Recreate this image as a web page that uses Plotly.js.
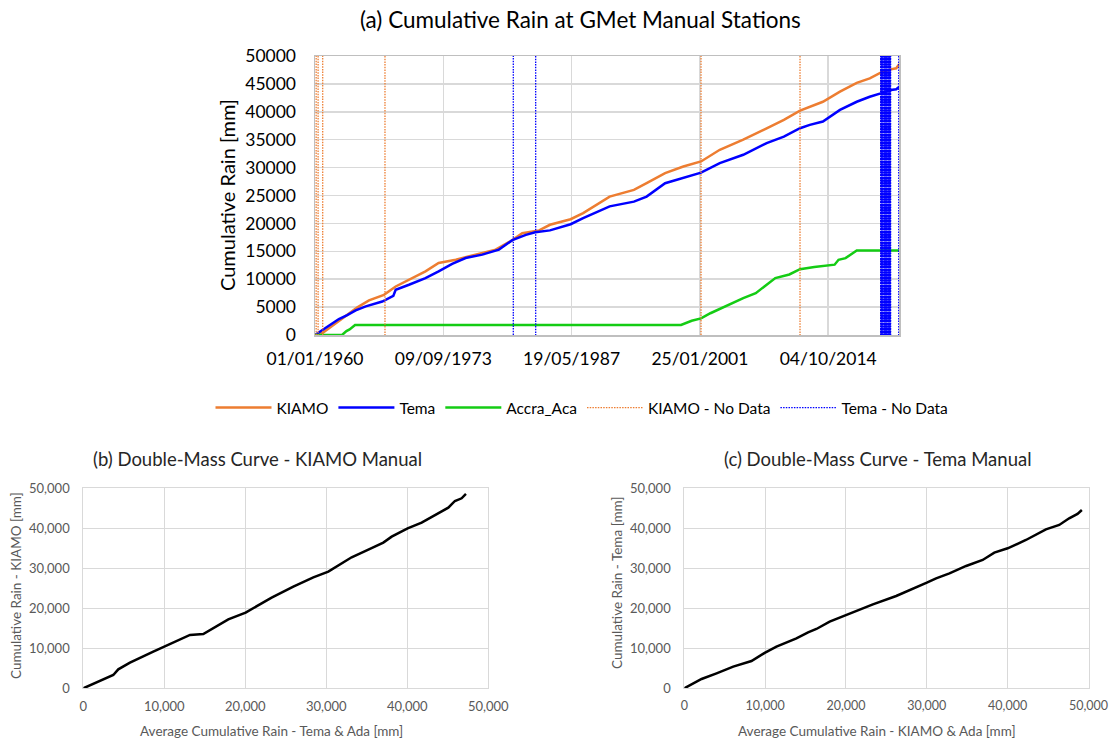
<!DOCTYPE html>
<html><head><meta charset="utf-8">
<script src="https://cdn.plot.ly/plotly-3.0.1.min.js"></script>
<style>html,body{margin:0;padding:0;background:#fff;} #chart{width:1110px;height:740px;}</style>
</head><body><div id="chart"></div>
<script>
// ---------- (a) Cumulative rain time series ----------
const kiamoDates = ['1960-01-01','1960-10-15','1961-11-10','1963-04-10','1964-07-10','1965-10-05','1967-05-10','1968-08-10','1970-01-10','1971-10-15','1973-03-10','1975-01-10','1977-02-10','1979-04-10','1981-01-20','1982-02-10','1983-12-01','1985-01-25','1987-04-10','1988-08-10','1991-06-10','1994-01-10','1995-05-20','1997-05-10','1999-04-20','2001-03-10','2003-03-10','2005-09-10','2008-03-10','2010-01-10','2011-10-01','2012-10-15','2014-03-10','2016-01-05','2017-10-20','2019-03-10','2020-05-10','2021-06-05','2022-01-05','2022-05-05'];
const kiamoRain  = [0,360,1670,3340,4950,6200,7200,8700,9900,11400,12900,13500,14400,15300,17000,18250,18750,19750,20750,21850,24800,26000,27200,29000,30200,31100,33200,35000,37050,38550,40200,40900,41800,43600,45200,46000,47000,47600,47800,48550];

const temaDates = ['1960-01-01','1960-06-05','1961-04-20','1962-07-20','1963-06-10','1964-05-05','1965-06-01','1967-03-05','1968-05-10','1968-08-10','1970-01-10','1971-10-15','1973-03-10','1974-08-20','1976-01-25','1977-11-05','1979-08-15','1981-01-20','1982-07-01','1983-07-01','1985-01-25','1987-04-10','1988-08-10','1991-06-10','1994-01-10','1995-05-20','1997-05-10','1999-04-20','2001-03-10','2003-03-10','2005-09-10','2008-03-10','2010-01-10','2011-10-01','2012-10-15','2014-03-10','2016-01-05','2017-10-20','2019-03-10','2020-05-10','2021-06-05','2022-01-05','2022-05-05'];
const temaRain  = [0,480,1430,2860,3580,4400,5130,6000,7000,8100,9000,10200,11400,12750,13800,14400,15300,17000,17950,18400,18750,19850,20950,23050,23900,24800,27200,28200,29100,30800,32300,34400,35550,37050,37650,38250,40350,41800,42700,43300,43900,44050,44500];

const accraDates = ['1960-01-01','1962-11-20','1963-05-10','1963-09-10','1964-04-10','1999-01-20','2000-03-10','2001-03-10','2002-03-10','2003-09-10','2005-09-10','2007-01-10','2009-02-10','2010-08-10','2011-10-01','2013-04-10','2015-06-10','2015-11-10','2016-08-10','2017-10-20','2022-05-05'];
const accraRain  = [0,0,700,1000,1790,1790,2550,2980,3900,5100,6600,7500,10200,10850,11800,12170,12600,13480,13780,15150,15150];

const kiamoNoData = ['1960-02-15','1960-05-01','1960-10-27','1967-06-20','2001-03-09','2011-10-01','2020-05-11'];
const temaNoData  = ['1981-02-27','1983-07-19','2020-05-11','2020-05-18','2020-05-25','2020-06-01','2020-06-08','2020-06-15','2020-06-22','2020-06-29','2020-07-06','2020-07-13','2020-07-20','2020-07-27','2020-08-03','2020-09-07','2020-09-14','2020-09-21','2020-09-28','2020-10-05','2020-10-12','2020-10-19','2020-10-26','2020-11-02','2020-11-09','2020-11-16','2020-11-23','2020-11-30','2020-12-07','2020-12-14','2020-12-21','2020-12-28','2021-01-04','2021-01-11','2021-01-18','2021-01-25','2021-02-22','2021-03-01','2021-03-08','2021-03-15','2021-03-22','2021-03-29','2021-04-05','2021-04-12','2021-04-19','2021-04-26','2021-05-03','2021-05-10','2021-05-17','2021-05-24','2021-05-31','2022-04-12'];

const xTickVals = ['1960-01-01','1973-09-09','1987-05-19','2001-01-25','2014-10-04'];
const xTickText = ['01/01/1960','09/09/1973','19/05/1987','25/01/2001','04/10/2014'];
const xRangeA = ['1960-01-01','2022-05-05'];
const yRangeA = [0, 50000];

// ---------- (b) Double-mass KIAMO ----------
const dmKiamoAvg = [0,3700,4320,5760,8640,10000,11930,13170,14810,16050,17900,20040,21810,23250,25930,28400,30250,33130,35390,37040,38070,40040,41770,43420,45060,45880,46710,47240];
const dmKiamoCum = [0,3330,4750,6420,9170,10420,12250,13330,13580,15000,17250,18920,21080,22670,25420,27750,29170,32750,34830,36420,37920,40000,41420,43330,45170,46830,47500,48580];

// ---------- (c) Double-mass Tema ----------
const dmTemaAvg = [0,2140,3990,6050,8310,10000,11400,13870,15310,16340,17980,20000,21690,23330,26210,28270,30000,31150,32800,34860,36910,38350,40000,42260,44730,46380,47610,48640,49180];
const dmTemaCum = [0,2330,3750,5420,6830,8920,10420,12500,14000,14830,16670,18330,19580,21000,23080,24830,26420,27500,28750,30580,32080,33920,35000,37080,39750,40830,42500,43580,44580];

// vertical "no data" markers; alternate drawing direction so the dot phases differ
function vlines(dates, yr){
  const x = [], y = [];
  dates.forEach((d, i) => {
    x.push(d, d, null);
    if (i % 2 === 0) y.push(yr[0], yr[1], null); else y.push(yr[1], yr[0], null);
  });
  return {x, y};
}
const kN = vlines(kiamoNoData, yRangeA);
const tN = vlines(temaNoData, yRangeA);

const ORANGE = '#ED7D31', BLUE = '#0000FF', GREEN = '#14CC14';
const FONT = 'Lato, "Open Sans", sans-serif';

const traces = [
  {x: kiamoDates, y: kiamoRain, name: 'KIAMO', mode: 'lines', line: {color: ORANGE, width: 2.5}, xaxis: 'x', yaxis: 'y'},
  {x: temaDates, y: temaRain, name: 'Tema', mode: 'lines', line: {color: BLUE, width: 2.5}, xaxis: 'x', yaxis: 'y'},
  {x: accraDates, y: accraRain, name: 'Accra_Aca', mode: 'lines', line: {color: GREEN, width: 2.5}, xaxis: 'x', yaxis: 'y'},
  {x: kN.x, y: kN.y, name: 'KIAMO - No Data', mode: 'lines', connectgaps: false, line: {color: ORANGE, width: 1.3, dash: '1.5px,1.2px'}, xaxis: 'x', yaxis: 'y'},
  {x: tN.x, y: tN.y, name: 'Tema - No Data', mode: 'lines', connectgaps: false, line: {color: BLUE, width: 1.3, dash: '1.5px,1.2px'}, xaxis: 'x', yaxis: 'y'},
  {x: dmKiamoAvg, y: dmKiamoCum, mode: 'lines', showlegend: false, line: {color: '#000', width: 2.5}, xaxis: 'x2', yaxis: 'y2'},
  {x: dmTemaAvg, y: dmTemaCum, mode: 'lines', showlegend: false, line: {color: '#000', width: 2.5}, xaxis: 'x3', yaxis: 'y3'}
];

const W = 1110, H = 740;
const px = v => v / W, py = v => 1 - v / H;

const bottomAxisCommon = {
  range: [0, 50000], dtick: 10000, tickformat: ',d', showgrid: true, gridcolor: '#D9D9D9', gridwidth: 1,
  zeroline: false, showline: true, mirror: true, linecolor: '#D9D9D9', linewidth: 1,
  ticks: 'outside', ticklen: 6, tickcolor: 'rgba(0,0,0,0)', ticklabeloverflow: 'allow',
  tickfont: {family: FONT, size: 13, color: '#595959'}, fixedrange: true
};

const layout = {
  width: W, height: H, margin: {l: 0, r: 0, t: 0, b: 0},
  paper_bgcolor: '#fff', plot_bgcolor: '#fff',
  font: {family: FONT, color: '#000'},
  showlegend: true,
  legend: {orientation: 'h', x: px(582), xanchor: 'center', y: py(408), yanchor: 'middle',
           font: {family: FONT, size: 15.5, color: '#000'}, itemwidth: 56, tracegroupgap: 0},
  xaxis: {
    domain: [px(315), px(899.3)], anchor: 'y', type: 'date', range: xRangeA,
    tickmode: 'array', tickvals: xTickVals, ticktext: xTickText,
    showgrid: true, gridcolor: '#D9D9D9', gridwidth: 1.5, zeroline: false,
    showline: true, mirror: true, linecolor: '#BFBFBF', linewidth: 1.5,
    ticks: 'outside', ticklen: 7, tickcolor: 'rgba(0,0,0,0)',
    tickfont: {family: FONT, size: 17.5, color: '#000'}, fixedrange: true
  },
  yaxis: {
    domain: [py(335), py(56)], anchor: 'x', range: yRangeA, dtick: 5000, tickformat: 'd',
    showgrid: true, gridcolor: '#D9D9D9', gridwidth: 1.5, zeroline: false,
    showline: true, mirror: true, linecolor: '#BFBFBF', linewidth: 1.5,
    ticks: 'outside', ticklen: 14, tickcolor: 'rgba(0,0,0,0)',
    tickfont: {family: FONT, size: 17.5, color: '#000'}, fixedrange: true
  },
  xaxis2: Object.assign({}, bottomAxisCommon, {domain: [px(83.3), px(488.3)], anchor: 'y2'}),
  yaxis2: Object.assign({}, bottomAxisCommon, {domain: [py(688.3), py(488.3)], anchor: 'x2', ticklen: 10}),
  xaxis3: Object.assign({}, bottomAxisCommon, {domain: [px(684.3), px(1088.5)], anchor: 'y3',
                                               tickfont: {family: FONT, size: 12.5, color: '#595959'}}),
  yaxis3: Object.assign({}, bottomAxisCommon, {domain: [py(688.3), py(488.3)], anchor: 'x3', ticklen: 10}),
  annotations: [
    {text: '(a) Cumulative Rain at GMet Manual Stations', x: px(580), y: py(20), xref: 'paper', yref: 'paper',
     showarrow: false, xanchor: 'center', yanchor: 'middle', font: {family: FONT, size: 22.5, color: '#000'}},
    {text: 'Cumulative Rain [mm]', x: px(227), y: py(195), xref: 'paper', yref: 'paper', textangle: -90,
     showarrow: false, xanchor: 'center', yanchor: 'middle', font: {family: FONT, size: 20, color: '#000'}},
    {text: '(b) Double-Mass Curve - KIAMO Manual', x: px(257), y: py(459), xref: 'paper', yref: 'paper',
     showarrow: false, xanchor: 'center', yanchor: 'middle', font: {family: FONT, size: 18.5, color: '#262626'}},
    {text: '(c) Double-Mass Curve - Tema Manual', x: px(878), y: py(459), xref: 'paper', yref: 'paper',
     showarrow: false, xanchor: 'center', yanchor: 'middle', font: {family: FONT, size: 18.5, color: '#262626'}},
    {text: 'Average Cumulative Rain - Tema &amp; Ada [mm]', x: px(271), y: py(731), xref: 'paper', yref: 'paper',
     showarrow: false, xanchor: 'center', yanchor: 'middle', font: {family: FONT, size: 13.5, color: '#595959'}},
    {text: 'Cumulative Rain - KIAMO [mm]', x: px(16), y: py(586), xref: 'paper', yref: 'paper', textangle: -90,
     showarrow: false, xanchor: 'center', yanchor: 'middle', font: {family: FONT, size: 13.5, color: '#595959'}},
    {text: 'Average Cumulative Rain - KIAMO &amp; Ada [mm]', x: px(877), y: py(731), xref: 'paper', yref: 'paper',
     showarrow: false, xanchor: 'center', yanchor: 'middle', font: {family: FONT, size: 13.5, color: '#595959'}},
    {text: 'Cumulative Rain - Tema [mm]', x: px(617), y: py(583), xref: 'paper', yref: 'paper', textangle: -90,
     showarrow: false, xanchor: 'center', yanchor: 'middle', font: {family: FONT, size: 13.5, color: '#595959'}}
  ]
};

Plotly.newPlot('chart', traces, layout, {staticPlot: true, displayModeBar: false});
</script></body></html>
